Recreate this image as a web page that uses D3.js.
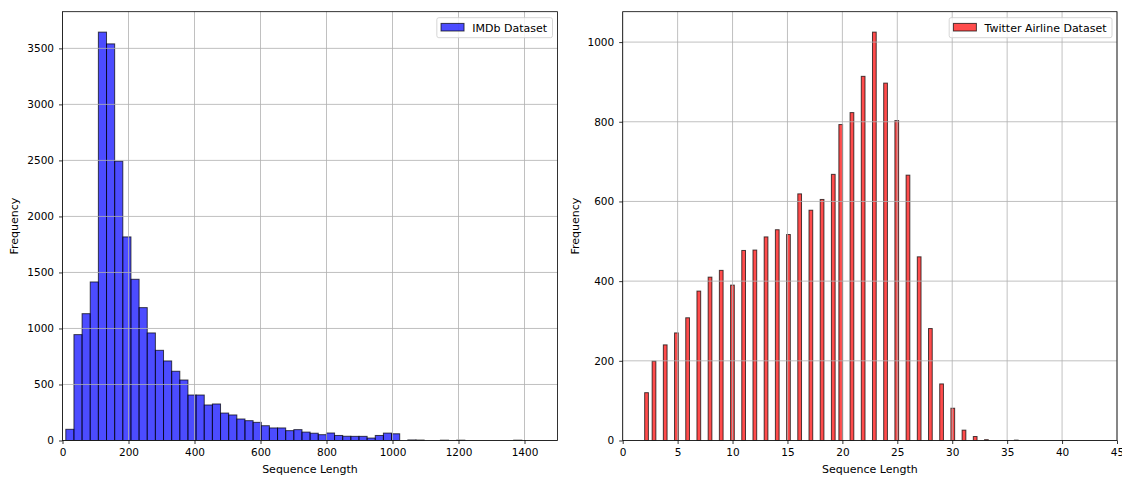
<!DOCTYPE html>
<html>
<head>
<meta charset="utf-8">
<script src="https://cdn.jsdelivr.net/npm/d3@7"></script>
<style>
  html, body { margin: 0; padding: 0; background: #fff; }
  svg { display: block; font-family: "DejaVu Sans", sans-serif; }
</style>
</head>
<body>
<svg id="chart" width="1122" height="477"></svg>
<script>
// IMDb review lengths: 56 equal-width bins between the shortest and longest review
const imdbRange = [10, 1392];
const imdbCounts = [
  100, 945, 1132, 1415, 3645, 3540, 2493, 1817, 1439, 1186,
  960, 805, 710, 618, 540, 406, 406, 317, 326, 245,
  228, 192, 177, 162, 132, 112, 112, 88, 97, 75,
  65, 52, 67, 45, 38, 37, 37, 22, 45, 66,
  60, 0, 5, 4, 0, 0, 3, 0, 3, 0,
  0, 0, 0, 0, 0, 3
];
const imdbXTicks = [0, 200, 400, 600, 800, 1000, 1200, 1400];
const imdbYTicks = [0, 500, 1000, 1500, 2000, 2500, 3000, 3500];

// Twitter airline tweet lengths (tokens) and how many tweets have each length
const twitterLengths = [
  2, 3, 4, 5, 6, 7, 8, 9, 10, 11, 12, 13, 14, 15, 16, 17, 18, 19,
  20, 21, 22, 23, 24, 25, 26, 27, 28, 29, 30, 31, 32, 33, 34, 35, 36
];
const twitterCounts = [
  120, 199, 240, 270, 308, 375, 410, 427, 390, 477, 478, 511, 529, 517, 619, 578, 605, 668,
  793, 823, 914, 1025, 897, 803, 666, 461, 281, 142, 81, 26, 10, 2, 0, 0, 1
];
const twitterRange = [2, 36];
const twitterBinCount = 100;
const twitterXTicks = [0, 5, 10, 15, 20, 25, 30, 35, 40, 45];
const twitterYTicks = [0, 200, 400, 600, 800, 1000];

const svg = d3.select("#chart");
svg.append("rect").attr("width", 1122).attr("height", 477).attr("fill", "#fff");

const TOP = 11.7, BOTTOM = 440.5;
const TICK_FONT = 10.5, LABEL_FONT = 11;

function panel(opts) {
  const g = svg.append("g");
  const x = d3.scaleLinear().domain(opts.xDomain).range([opts.left, opts.right]);
  const y = d3.scaleLinear().domain([0, d3.max(opts.bins, d => d.count) * 1.05]).range([BOTTOM, TOP]);

  // bars
  g.append("g").selectAll("rect")
    .data(opts.bins.filter(d => d.count > 0))
    .join("rect")
    .attr("x", d => x(d.x0))
    .attr("width", d => x(d.x1) - x(d.x0))
    .attr("y", d => y(d.count))
    .attr("height", d => y(0) - y(d.count))
    .attr("fill", opts.color)
    .attr("fill-opacity", 0.7)
    .attr("stroke", "#000")
    .attr("stroke-opacity", 0.7)
    .attr("stroke-width", 1);

  // grid drawn above the bars
  const grid = g.append("g").attr("stroke", "#b0b0b0").attr("stroke-width", 0.8);
  grid.selectAll(".vx").data(opts.xTicks).join("line")
    .attr("x1", d => x(d)).attr("x2", d => x(d))
    .attr("y1", TOP).attr("y2", BOTTOM);
  grid.selectAll(".hy").data(opts.yTicks).join("line")
    .attr("x1", opts.left).attr("x2", opts.right)
    .attr("y1", d => y(d)).attr("y2", d => y(d));

  // axes
  const xAxis = d3.axisBottom(x).tickValues(opts.xTicks).tickSize(3.5).tickPadding(5).tickFormat(d3.format("d"));
  const yAxis = d3.axisLeft(y).tickValues(opts.yTicks).tickSize(3.5).tickPadding(5).tickFormat(d3.format("d"));
  const gx = g.append("g").attr("transform", `translate(0,${BOTTOM})`).call(xAxis);
  const gy = g.append("g").attr("transform", `translate(${opts.left},0)`).call(yAxis);
  [gx, gy].forEach(a => {
    a.select(".domain").remove();
    a.selectAll("line").attr("stroke", "#000").attr("stroke-width", 0.8);
    a.selectAll("text").attr("font-size", TICK_FONT).attr("fill", "#000")
      .attr("font-family", "DejaVu Sans, sans-serif");
  });

  // frame
  g.append("rect")
    .attr("x", opts.left).attr("y", TOP)
    .attr("width", opts.right - opts.left).attr("height", BOTTOM - TOP)
    .attr("fill", "none").attr("stroke", "#000").attr("stroke-width", 0.8);

  // axis titles
  g.append("text")
    .attr("x", (opts.left + opts.right) / 2).attr("y", 472.5)
    .attr("text-anchor", "middle").attr("font-size", LABEL_FONT).attr("fill", "#000")
    .text("Sequence Length");
  g.append("text")
    .attr("transform", `translate(${opts.yLabelX},${(TOP + BOTTOM) / 2}) rotate(-90)`)
    .attr("text-anchor", "middle").attr("font-size", LABEL_FONT).attr("fill", "#000")
    .text("Frequency");

  // legend in the upper right corner
  const lg = g.append("g");
  const boxRight = opts.right - 5;
  const label = lg.append("text")
    .attr("font-size", LABEL_FONT).attr("fill", "#000")
    .attr("y", 31.8)
    .text(opts.name);
  const tw = label.node().getComputedTextLength();
  const textX = boxRight - 5.5 - tw;
  label.attr("x", textX);
  const patchX = textX - 8.2 - 23;
  const boxLeft = patchX - 4.2;
  lg.insert("rect", "text")
    .attr("x", boxLeft).attr("y", 17.7)
    .attr("width", boxRight - boxLeft).attr("height", 20)
    .attr("rx", 2).attr("ry", 2)
    .attr("fill", "#fff").attr("fill-opacity", 0.8)
    .attr("stroke", "#cccccc").attr("stroke-width", 0.8);
  lg.insert("rect", "text")
    .attr("x", patchX).attr("y", 23.4)
    .attr("width", 23).attr("height", 7.6)
    .attr("fill", opts.color).attr("fill-opacity", 0.7)
    .attr("stroke", "#000").attr("stroke-opacity", 0.7).attr("stroke-width", 1);
}

// IMDb bins
const imdbWidth = (imdbRange[1] - imdbRange[0]) / imdbCounts.length;
const imdbBins = imdbCounts.map((c, i) => ({
  x0: imdbRange[0] + i * imdbWidth,
  x1: imdbRange[0] + (i + 1) * imdbWidth,
  count: c
}));

// Twitter bins: each integer length falls into one of 100 narrow bins
const twWidth = (twitterRange[1] - twitterRange[0]) / twitterBinCount;
const twitterBins = twitterLengths.map((v, i) => {
  const k = Math.min(twitterBinCount - 1, Math.floor((v - twitterRange[0]) / twWidth + 1e-9));
  return { x0: twitterRange[0] + k * twWidth, x1: twitterRange[0] + (k + 1) * twWidth, count: twitterCounts[i] };
});

panel({
  left: 62.5, right: 557.5, xDomain: [0, 1500],
  bins: imdbBins, xTicks: imdbXTicks, yTicks: imdbYTicks,
  color: "blue", name: "IMDb Dataset", yLabelX: 17.5
});
panel({
  left: 622.7, right: 1117, xDomain: [0, 45],
  bins: twitterBins, xTicks: twitterXTicks, yTicks: twitterYTicks,
  color: "red", name: "Twitter Airline Dataset", yLabelX: 579
});
</script>
</body>
</html>
